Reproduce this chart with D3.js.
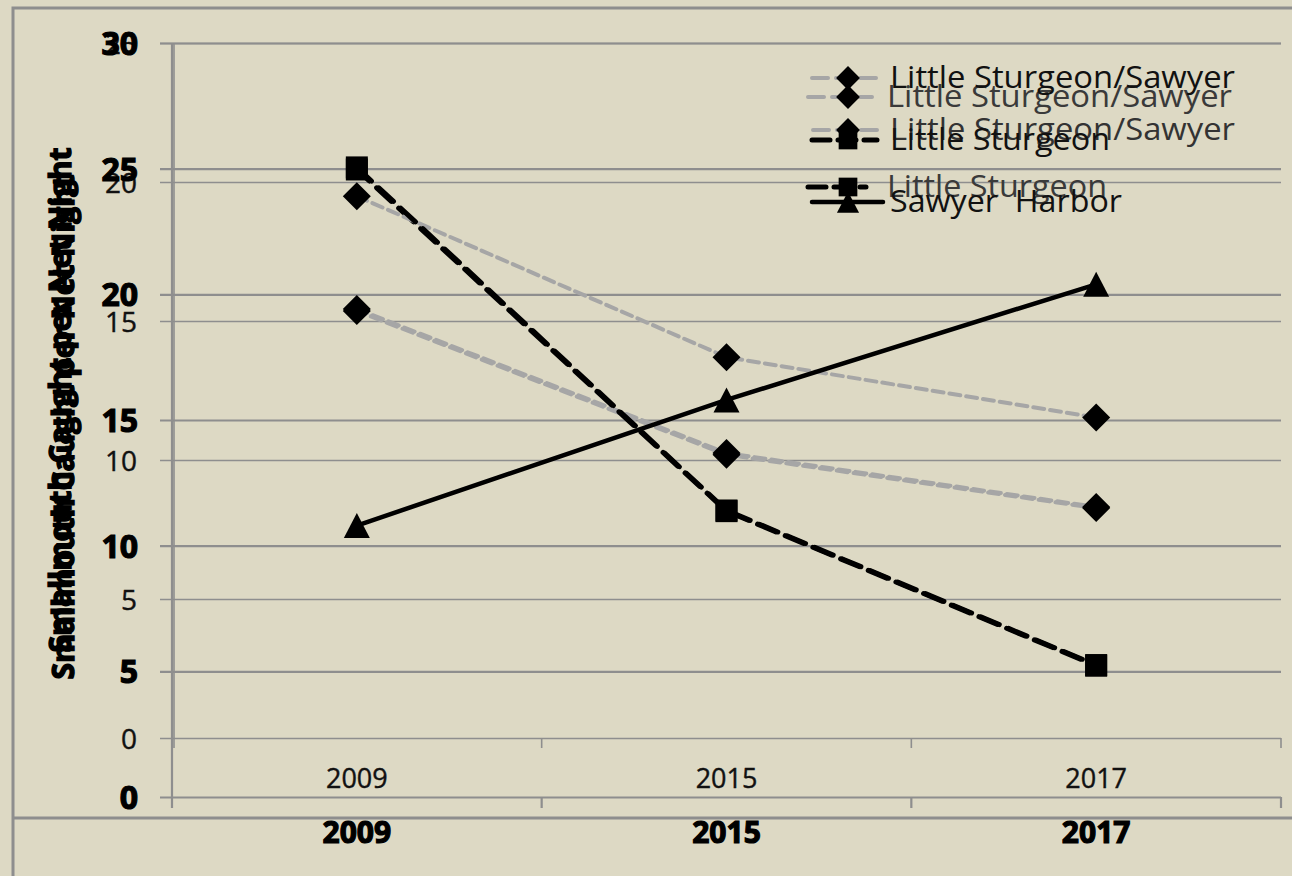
<!DOCTYPE html>
<html>
<head>
<meta charset="utf-8">
<script src="https://cdn.jsdelivr.net/npm/d3@7/dist/d3.min.js"></script>
<style>
  html, body { margin: 0; padding: 0; background: #DDD9C4; }
  svg { display: block; }
  text { font-family: "Open Sans", "DejaVu Sans", sans-serif; }
</style>
</head>
<body>
<svg id="chart" width="1292" height="876"></svg>
<script>
// ---------------- DATA ----------------
const categories = ["2009", "2015", "2017"];

// front chart (scale 0-30)
const ticksA = [0, 5, 10, 15, 20, 25, 30];
const lsSawyerA = [23.9, 17.5, 15.1];
const littleSturgeonA = [25.05, 11.4, 5.25];
const sawyerHarborA = [10.8, 15.8, 20.4];
const legendLabelsA = ["Little Sturgeon/Sawyer", "Little Sturgeon", "Sawyer  Harbor"];

// ghost chart behind it (scale 0-25)
const ticksB = [0, 5, 10, 15, 20, 25];
const lsSawyerB1 = [15.43, 10.25, 8.31];
const lsSawyerB2 = [15.36, 10.19, 8.27];
const littleSturgeonB = [20.45, 8.16, 2.6];
const legendLabelsB = ["Little Sturgeon/Sawyer", "Little Sturgeon/Sawyer", "Little Sturgeon"];

const yTitle = "Smallmouth Caught per Net Night";

// ---------------- LAYOUT ----------------
const svg = d3.select("#chart");
const BG = "#DDD9C4", GRID = "#8E8E8E", GRAY = "#A6A6A6";
const plotLeft = 172, plotRight = 1281;

const x = d3.scaleBand().domain(categories).range([plotLeft, plotRight]);
const yA = d3.scaleLinear().domain([0, 30]).range([797, 43]);
const yB = d3.scaleLinear().domain([0, 25]).range([738, 43]);

svg.append("rect").attr("width", 1292).attr("height", 876).attr("fill", BG);

// outer frame
svg.append("path")
  .attr("d", "M13,900 L13,8 L1300,8")
  .attr("fill", "none").attr("stroke", GRID).attr("stroke-width", 3);
svg.append("line").attr("x1", 13).attr("x2", 1300).attr("y1", 818).attr("y2", 818)
  .attr("stroke", GRID).attr("stroke-width", 3);

// ---------- gridlines ----------
function grid(scale, ticks, w) {
  const g = svg.append("g").attr("transform", `translate(${plotLeft - 12},0)`)
    .call(d3.axisRight(scale).tickValues(ticks).tickSize(plotRight - plotLeft + 12).tickFormat(""));
  g.select(".domain").remove();
  g.selectAll(".tick line").attr("stroke", GRID).attr("stroke-width", w);
}
grid(yB, ticksB, 1.6);
grid(yA, ticksA, 2.2);

// vertical axis lines
svg.append("line").attr("x1", plotLeft + 2).attr("x2", plotLeft + 2)
  .attr("y1", yB(25)).attr("y2", yB(0) + 10).attr("stroke", GRID).attr("stroke-width", 1.6);
svg.append("line").attr("x1", plotLeft).attr("x2", plotLeft)
  .attr("y1", yA(30)).attr("y2", yA(0) + 11).attr("stroke", GRID).attr("stroke-width", 2.2);

// x-axis tick marks at category boundaries
function xTicks(yPos, len, w) {
  const bounds = categories.map(c => x(c) + x.bandwidth());
  svg.append("g").selectAll("line").data(bounds).join("line")
    .attr("x1", d => d).attr("x2", d => d)
    .attr("y1", yPos).attr("y2", yPos + len)
    .attr("stroke", GRID).attr("stroke-width", w);
}
xTicks(yB(0), 10, 1.6);
xTicks(yA(0), 11, 2.2);

// ---------- tick labels ----------
const labB = svg.append("g").attr("transform", `translate(${plotLeft},0)`)
  .call(d3.axisLeft(yB).tickValues(ticksB).tickSize(0).tickPadding(35));
labB.select(".domain").remove();
labB.selectAll("text").attr("font-family", "Open Sans").attr("font-size", 28)
  .attr("fill", "#111").attr("stroke", "#111").attr("stroke-width", 0.4).attr("dy", "0.36em");

const labA = svg.append("g").attr("transform", `translate(${plotLeft},0)`)
  .call(d3.axisLeft(yA).tickValues(ticksA).tickSize(0).tickPadding(34));
labA.select(".domain").remove();
labA.selectAll("text").attr("font-family", "Open Sans").attr("font-size", 32)
  .attr("font-weight", "bold").attr("fill", "#000").attr("stroke", "#000")
  .attr("stroke-width", 1.2).attr("dy", "0.36em");

const xlabB = svg.append("g").attr("transform", `translate(0,${yB(0)})`)
  .call(d3.axisBottom(x).tickSize(0).tickPadding(31));
xlabB.select(".domain").remove();
xlabB.selectAll("text").attr("font-family", "Open Sans").attr("font-size", 27)
  .attr("fill", "#111").attr("stroke", "#111").attr("stroke-width", 0.4);

const xlabA = svg.append("g").attr("transform", `translate(0,${yA(0)})`)
  .call(d3.axisBottom(x).tickSize(0).tickPadding(25));
xlabA.select(".domain").remove();
xlabA.selectAll("text").attr("font-family", "Open Sans").attr("font-size", 30)
  .attr("font-weight", "bold").attr("fill", "#000").attr("stroke", "#000")
  .attr("stroke-width", 1.2);

// ---------- y titles (two overlapping copies) ----------
function yTitleAt(cx, cy) {
  svg.append("text")
    .attr("transform", `translate(${cx},${cy}) rotate(-90)`)
    .attr("text-anchor", "middle")
    .attr("font-size", 30).attr("font-weight", "bold")
    .attr("textLength", 505).attr("lengthAdjust", "spacingAndGlyphs")
    .attr("fill", "#000").attr("stroke", "#000").attr("stroke-width", 1.4)
    .text(yTitle);
}
yTitleAt(71, 400);
yTitleAt(74, 427);

// ---------- marker shapes ----------
const shapes = {
  diamond: "M0,-14L14,0L0,14L-14,0Z",
  square: "M-11,-11H11V11H-11Z",
  triangle: "M0,-12.5L13,12.5L-13,12.5Z"
};

const styles = {
  grayDash: { stroke: GRAY, width: 4, dash: "11,6" },
  blackDash: { stroke: "#000", width: 5, dash: "20,10" },
  solid: { stroke: "#000", width: 4.5, dash: null }
};

function series(values, scale, style, shape, dashOffset) {
  const pts = values.map((v, i) => [x(categories[i]) + x.bandwidth() / 2, scale(v)]);
  const st = styles[style];
  svg.append("path").datum(pts)
    .attr("d", d3.line())
    .attr("fill", "none").attr("stroke", st.stroke).attr("stroke-width", st.width)
    .attr("stroke-dasharray", st.dash).attr("stroke-dashoffset", dashOffset || 0)
    .attr("stroke-linecap", "round");
  return pts.map(p => ({ p, shape }));
}

const markers = [];
markers.push(...series(lsSawyerB1, yB, "grayDash", "diamond", 0));
markers.push(...series(lsSawyerB2, yB, "grayDash", "diamond", 2));
markers.push(...series(littleSturgeonB, yB, "blackDash", "square", 3));
markers.push(...series(lsSawyerA, yA, "grayDash", "diamond", 0));
markers.push(...series(littleSturgeonA, yA, "blackDash", "square", 0));
markers.push(...series(sawyerHarborA, yA, "solid", "triangle", 0));

svg.append("g").selectAll("path").data(markers).join("path")
  .attr("d", d => shapes[d.shape])
  .attr("transform", d => `translate(${d.p[0]},${d.p[1]})`)
  .attr("fill", "#000");

// ---------- legends ----------
const legendItemsB = [
  { label: legendLabelsB[0], style: "grayDash", shape: "diamond", y: 97, x0: 808, x1: 880, tx: 887, color: "#3a3a3a" },
  { label: legendLabelsB[1], style: "grayDash", shape: "diamond", y: 130, x0: 813, x1: 880, tx: 890, color: "#333" },
  { label: legendLabelsB[2], style: "blackDash", shape: "square", y: 187, x0: 808, x1: 866, tx: 887, color: "#3a3a3a" }
];
const legendItemsA = [
  { label: legendLabelsA[0], style: "grayDash", shape: "diamond", y: 78, x0: 812, x1: 877, tx: 890, color: "#111" },
  { label: legendLabelsA[1], style: "blackDash", shape: "square", y: 140, x0: 812, x1: 877, tx: 890, color: "#111" },
  { label: legendLabelsA[2], style: "solid", shape: "triangle", y: 202, x0: 812, x1: 883, tx: 890, color: "#111" }
];
const textLen = { "Little Sturgeon/Sawyer": 345, "Little Sturgeon": 220, "Sawyer  Harbor": 232 };
const legendDash = { grayDash: "16,8", blackDash: "18,8", solid: null };

function legend(items) {
  items.forEach(it => {
    const st = styles[it.style];
    svg.append("line").attr("x1", it.x0).attr("x2", it.x1).attr("y1", it.y).attr("y2", it.y)
      .attr("stroke", st.stroke).attr("stroke-width", st.width)
      .attr("stroke-dasharray", legendDash[it.style])
      .attr("stroke-linecap", "round");
    svg.append("path").attr("d", shapes[it.shape])
      .attr("transform", `translate(848,${it.y}) scale(0.85)`).attr("fill", "#000");
    svg.append("text").attr("x", it.tx).attr("y", it.y + 10)
      .attr("font-size", 31).attr("fill", it.color)
      .attr("textLength", textLen[it.label]).attr("lengthAdjust", "spacingAndGlyphs")
      .style("white-space", "pre")
      .text(it.label);
  });
}
legend(legendItemsB);
legend(legendItemsA);
</script>
</body>
</html>
